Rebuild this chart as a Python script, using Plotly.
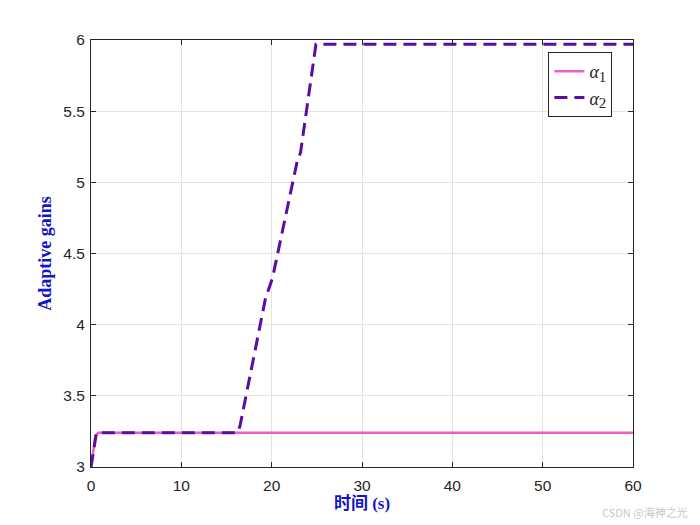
import plotly.graph_objects as go

t1 = [0, 0.5, 0.8, 60]
alpha1 = [3.0, 3.22, 3.24, 3.24]

t2 = [0, 0.6, 16.2, 16.5, 19.3, 19.7, 20.1, 22.8, 23.2, 24.9, 25.2, 60]
alpha2 = [3.0, 3.24, 3.24, 3.29, 4.18, 4.25, 4.33, 5.14, 5.21, 5.97, 5.97, 5.97]

legend_names = ["<i>α</i><sub><span style=\"font-size:15px\">1</span></sub>",
                "<i>α</i><sub><span style=\"font-size:15px\">2</span></sub>"]
x_ticks = [0, 10, 20, 30, 40, 50, 60]
y_ticks = [3, 3.5, 4, 4.5, 5, 5.5, 6]

fig = go.Figure()
fig.add_trace(go.Scatter(x=t1, y=alpha1, mode="lines", name=legend_names[0],
                         line=dict(color="#EC5FC6", width=2.5)))
fig.add_trace(go.Scatter(x=t2, y=alpha2, mode="lines", name=legend_names[1],
                         line=dict(color="#5A0CA3", width=3, dash="13px,7px")))

axis_common = dict(showline=True, linecolor="#262626", linewidth=1, mirror="ticks",
                   ticks="inside", ticklen=5, tickcolor="#262626",
                   showgrid=True, gridcolor="#E3E3E3", gridwidth=1, zeroline=False,
                   tickfont=dict(family="Liberation Sans, Arial", size=15.5, color="#262626"))

fig.update_xaxes(range=[0, 60], tickvals=x_ticks, ticklabelstandoff=4, **axis_common,
                 title=dict(text="<b>时间 (s)</b>", standoff=4,
                            font=dict(family="Liberation Serif, Noto Sans CJK SC", size=17, color="#1414C8")))
fig.update_yaxes(range=[3, 6], tickvals=y_ticks, ticklabelstandoff=2, **axis_common,
                 title=dict(text="<b>Adaptive gains</b>", standoff=7,
                            font=dict(family="Liberation Serif, Times New Roman", size=18, color="#1414C8")))

fig.update_layout(
    width=700, height=525,
    margin=dict(l=83, r=75, t=32, b=66),
    plot_bgcolor="white", paper_bgcolor="white",
    showlegend=True,
    legend=dict(x=0.962, y=0.972, xanchor="right", yanchor="top",
                bordercolor="#262626", borderwidth=1, bgcolor="white",
                font=dict(family="Liberation Serif", size=18, color="#262626"),
                tracegroupgap=0, itemwidth=30),
    annotations=[dict(text="CSDN @海神之光", x=1.0, y=0, xref="paper", yref="paper",
                      xanchor="right", yanchor="middle", xshift=57, yshift=-45, showarrow=False,
                      font=dict(family="Noto Sans CJK SC", size=11, color="#C8C8C8"))]
)

fig.write_html("out.html")
